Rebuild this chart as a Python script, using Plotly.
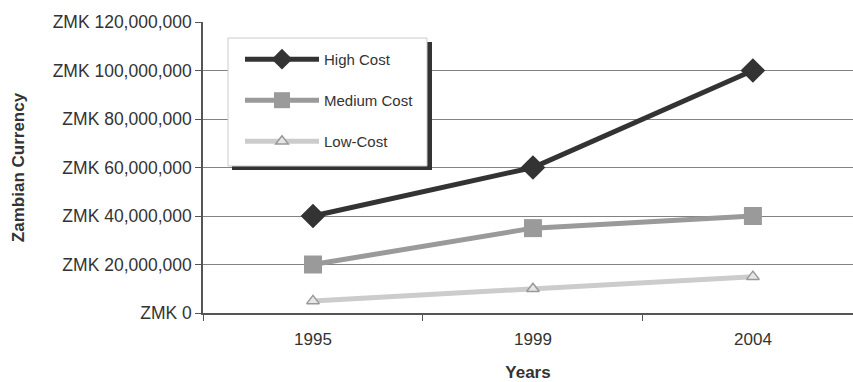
import plotly.graph_objects as go

years = ["1995", "1999", "2004"]
high_cost = [40_000_000, 60_000_000, 100_000_000]
medium_cost = [20_000_000, 35_000_000, 40_000_000]
low_cost = [5_000_000, 10_000_000, 15_000_000]
y_ticks = [0, 20_000_000, 40_000_000, 60_000_000, 80_000_000, 100_000_000, 120_000_000]
y_tick_text = ["ZMK " + f"{v:,}" for v in y_ticks]

font_family = "Liberation Sans, Arial, sans-serif"

fig = go.Figure()
fig.add_trace(go.Scatter(
    x=years, y=high_cost, name="High Cost", mode="lines+markers",
    line=dict(color="#333333", width=5),
    marker=dict(symbol="diamond", size=19, color="#333333"),
    legendgroup="h",
))
fig.add_trace(go.Scatter(
    x=years, y=medium_cost, name="Medium Cost", mode="lines+markers",
    line=dict(color="#9a9a9a", width=5),
    marker=dict(symbol="square", size=18, color="#9a9a9a"),
    legendgroup="m",
))
fig.add_trace(go.Scatter(
    x=years, y=low_cost, name="Low-Cost", mode="lines+markers",
    line=dict(color="#cccccc", width=5),
    marker=dict(symbol="triangle-up", size=11, color="#e6e6e6",
                line=dict(color="#999999", width=1.5)),
    legendgroup="l",
))

# legend frame: dark drop shadow, then white box with a light border
fig.add_shape(type="rect", xref="paper", yref="paper",
              x0=0.0446, x1=0.3523, y0=0.4914, y1=0.9313,
              fillcolor="#333333", line=dict(width=0), layer="above")
fig.add_shape(type="rect", xref="paper", yref="paper",
              x0=0.0385, x1=0.3446, y0=0.5052, y1=0.945,
              fillcolor="white", line=dict(color="#cccccc", width=1), layer="above")

fig.update_layout(
    width=853, height=382,
    margin=dict(l=203, r=0, t=22, b=69),
    paper_bgcolor="white", plot_bgcolor="white",
    font=dict(family=font_family, size=17, color="#333333"),
    showlegend=True,
    legend=dict(
        x=0.0569, y=0.928, xanchor="left", yanchor="top",
        bgcolor="rgba(0,0,0,0)", borderwidth=0,
        font=dict(size=15, color="#333333"),
        itemwidth=74, traceorder="grouped", tracegroupgap=18.5,
    ),
    xaxis=dict(
        type="category", range=[-0.5, 2.455],
        showline=True, linecolor="#555555", linewidth=1.5,
        ticks="outside", tickson="boundaries", ticklen=6, tickcolor="#555555",
        showgrid=False, ticklabelstandoff=10,
        title=dict(text="<b>Years</b>", standoff=22, font=dict(size=17)),
    ),
    yaxis=dict(
        range=[0, 120_000_000], tickmode="array",
        tickvals=y_ticks, ticktext=y_tick_text,
        tickfont=dict(size=17.5),
        showline=True, linecolor="#555555", linewidth=1.5,
        ticks="outside", ticklen=6, tickcolor="#555555",
        showgrid=True, gridcolor="#828282", gridwidth=1,
        zeroline=False,
        title=dict(text="<b>Zambian Currency</b>", standoff=24, font=dict(size=17)),
    ),
)

fig.write_html("out.html")
